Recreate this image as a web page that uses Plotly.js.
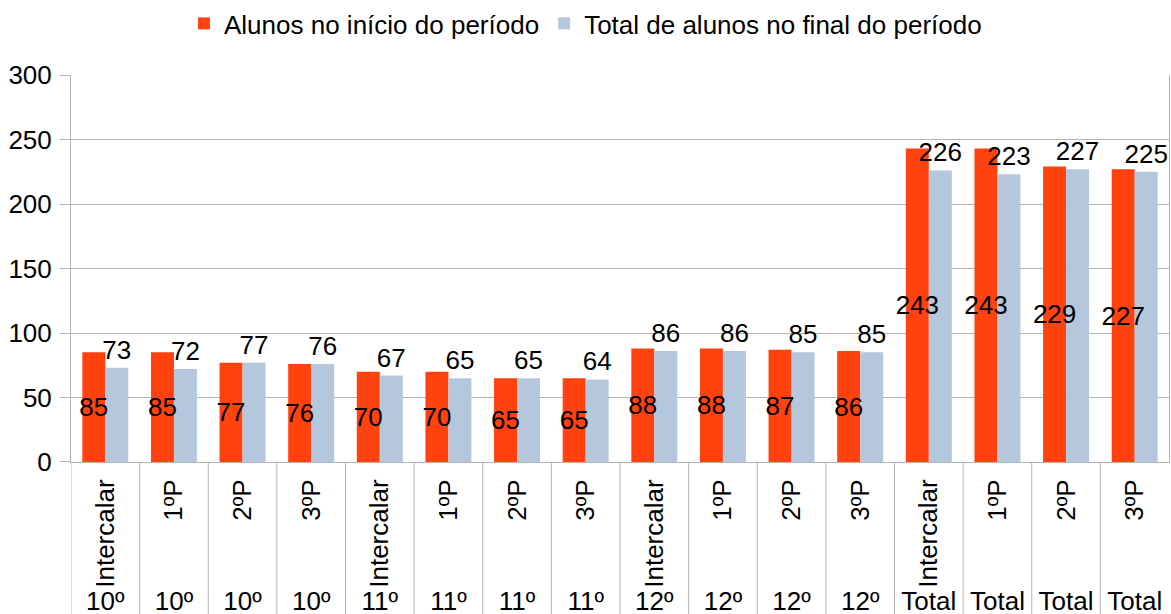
<!DOCTYPE html>
<html>
<head>
<meta charset="utf-8">
<script src="https://cdn.plot.ly/plotly-3.0.1.min.js"></script>
<style>
  html, body { margin: 0; padding: 0; background: #fff; }
  #chart { width: 1171px; height: 614px; }
</style>
</head>
<body>
<div id="chart"></div>
<script>
// categories: period (inner) and year (outer)
var periodos = ["Intercalar", "1ºP", "2ºP", "3ºP",
                "Intercalar", "1ºP", "2ºP", "3ºP",
                "Intercalar", "1ºP", "2ºP", "3ºP",
                "Intercalar", "1ºP", "2ºP", "3ºP"];
var anos = ["10º", "10º", "10º", "10º",
            "11º", "11º", "11º", "11º",
            "12º", "12º", "12º", "12º",
            "Total", "Total", "Total", "Total"];

// series
var inicio = [85, 85, 77, 76, 70, 70, 65, 65, 88, 88, 87, 86, 243, 243, 229, 227];
var finalPeriodo = [73, 72, 77, 76, 67, 65, 65, 64, 86, 86, 85, 85, 226, 223, 227, 225];

var idx = periodos.map(function (p, i) { return i; });
var gridColor = "#b3b3b3";
var fontName = "Liberation Sans, Arial, sans-serif";
var fs = 26;
var yDomainBottom = 0.2382;
var barW = 0.335;

function barTrace(vals, name, color, offset) {
  return {
    x: idx, y: vals, name: name, type: "bar",
    width: barW, offset: offset,
    marker: { color: color },
    hoverinfo: "none"
  };
}
// label-only traces drawn on top of both series
function labelTrace(vals, offset, pos) {
  return {
    x: idx, y: vals, type: "bar",
    width: barW, offset: offset,
    marker: { color: "rgba(0,0,0,0)" },
    text: vals.map(String),
    textposition: pos,
    insidetextanchor: "middle",
    textangle: 0,
    constraintext: "none",
    textfont: { color: "#000", size: fs, family: fontName },
    cliponaxis: false,
    showlegend: false,
    hoverinfo: "none"
  };
}

var traces = [
  barTrace(inicio, "Alunos no início do período", "#ff420e", -barW),
  barTrace(finalPeriodo, "Total de alunos no final do período", "#b4c7dc", 0),
  labelTrace(inicio, -barW, "inside"),
  labelTrace(finalPeriodo, 0, "outside"),
  // invisible trace so xaxis2 gets drawn
  { x: idx, y: inicio.map(function () { return null; }), xaxis: "x2",
    type: "scatter", mode: "markers", showlegend: false, hoverinfo: "none" }
];

// dividers between categories below the axis
var shapes = idx.map(function (i) {
  return {
    type: "line", xref: "x", yref: "paper",
    x0: i - 0.5, x1: i - 0.5, y0: -0.08, y1: yDomainBottom,
    line: { color: gridColor, width: 1 }
  };
});

var layout = {
  width: 1171,
  height: 614,
  margin: { l: 71, r: 2, t: 75, b: 31 },
  paper_bgcolor: "#fff",
  plot_bgcolor: "#fff",
  font: { family: fontName, size: fs, color: "#000" },
  barmode: "overlay",
  showlegend: true,
  legend: {
    orientation: "h",
    xref: "container", x: 0.5, xanchor: "center",
    yref: "container", y: 1.0, yanchor: "top",
    font: { size: fs },
    itemwidth: 30
  },
  xaxis: {
    range: [-0.5, 15.5],
    tickvals: idx,
    ticktext: periodos,
    tickangle: -90,
    ticks: "",
    ticklabelstandoff: 6,
    showgrid: false,
    zeroline: false,
    showline: true,
    linecolor: gridColor,
    fixedrange: true
  },
  xaxis2: {
    overlaying: "x",
    anchor: "free",
    position: 0,
    side: "bottom",
    range: [-0.5, 15.5],
    tickvals: idx,
    ticktext: anos,
    ticks: "",
    showgrid: false,
    zeroline: false,
    showline: false,
    fixedrange: true
  },
  yaxis: {
    domain: [yDomainBottom, 1],
    range: [0, 300],
    dtick: 50,
    ticks: "outside",
    ticklen: 10,
    tickcolor: gridColor,
    ticklabelstandoff: 3,
    showgrid: true,
    gridcolor: gridColor,
    zeroline: false,
    showline: true,
    mirror: true,
    linecolor: gridColor,
    fixedrange: true
  },
  shapes: shapes
};

Plotly.newPlot("chart", traces, layout, { staticPlot: true });
</script>
</body>
</html>
